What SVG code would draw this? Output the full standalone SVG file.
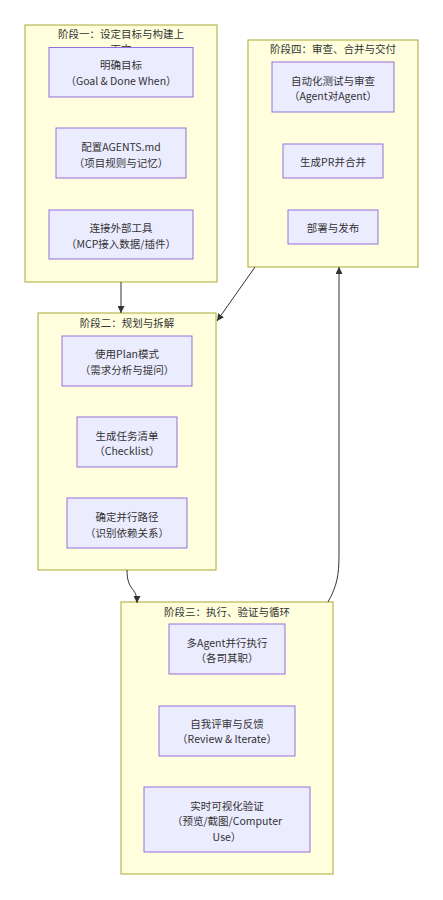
<svg xmlns="http://www.w3.org/2000/svg" width="443" height="900" viewBox="0 0 443 900">
<style>
.cluster rect{fill:#ffffde;stroke:#aaaa33;stroke-width:1}
.node rect{fill:#ECECFF;stroke:#9370DB;stroke-width:1}
text{font-family:"Noto Sans CJK SC","Noto Sans",sans-serif;font-size:10.5px;fill:#333;text-anchor:middle;dominant-baseline:central}
.edge{fill:none;stroke:#333;stroke-width:1;marker-end:url(#arrow)}
</style>
<defs>
<marker id="arrow" viewBox="0 0 10 10" refX="10" refY="5" markerWidth="7" markerHeight="7" markerUnits="userSpaceOnUse" orient="auto">
<path d="M0,0 L10,5 L0,10 z" fill="#333"/>
</marker>
</defs>
<rect width="443" height="900" fill="#ffffff"/>
<g id="clusters">
<g id="stage1" class="cluster"><rect x="25" y="25" width="192" height="257"/><text x="121" y="33.5">阶段一：设定目标与构建上</text><text x="121" y="48">下文</text></g>
<g id="stage4" class="cluster"><rect x="248" y="40" width="170" height="227"/><text x="333" y="48">阶段四：审查、合并与交付</text></g>
<g id="stage2" class="cluster"><rect x="38" y="313" width="178" height="257"/><text x="127" y="322">阶段二：规划与拆解</text></g>
<g id="stage3" class="cluster"><rect x="121" y="602" width="212" height="272"/><text x="227" y="611">阶段三：执行、验证与循环</text></g>
</g>
<g id="connectors">
<path class="edge" d="M121,282 L121,313"/>
<path class="edge" d="M255,267 L217,321"/>
<path class="edge" d="M127,570 C127,592 137,586 137,603"/>
<path class="edge" d="M328,602 C337,586 339,575 339,555 L339,267"/>
</g>
<g id="nodes">
<g id="goal" class="node"><rect x="49" y="47.5" width="144" height="49.5"/><text x="121" y="64">明确目标</text><text x="121" y="80">（Goal &amp; Done When）</text></g>
<g id="agents" class="node"><rect x="56" y="128" width="130" height="50"/><text x="121" y="146">配置AGENTS.md</text><text x="121" y="162">（项目规则与记忆）</text></g>
<g id="tools" class="node"><rect x="49" y="210" width="144" height="49"/><text x="121" y="227">连接外部工具</text><text x="121" y="243">（MCP接入数据/插件）</text></g>
<g id="plan" class="node"><rect x="62" y="336" width="130" height="50"/><text x="127" y="353">使用Plan模式</text><text x="127" y="369">（需求分析与提问）</text></g>
<g id="checklist" class="node"><rect x="77" y="417" width="100" height="50"/><text x="127" y="435">生成任务清单</text><text x="127" y="450">（Checklist）</text></g>
<g id="parallel" class="node"><rect x="67" y="498" width="120" height="50"/><text x="127" y="516">确定并行路径</text><text x="127" y="532">（识别依赖关系）</text></g>
<g id="multi" class="node"><rect x="169" y="624" width="116" height="50"/><text x="227" y="642">多Agent并行执行</text><text x="227" y="657">（各司其职）</text></g>
<g id="review" class="node"><rect x="159" y="706" width="136" height="50"/><text x="227" y="723">自我评审与反馈</text><text x="227" y="738">（Review &amp; Iterate）</text></g>
<g id="visual" class="node"><rect x="144" y="787" width="166" height="65"/><text x="227" y="805">实时可视化验证</text><text x="227" y="820">（预览/截图/Computer</text><text x="227" y="836">Use）</text></g>
<g id="autotest" class="node"><rect x="272" y="62" width="122" height="50"/><text x="333" y="80">自动化测试与审查</text><text x="333" y="95">（Agent对Agent）</text></g>
<g id="pr" class="node"><rect x="283" y="144" width="100" height="34"/><text x="333" y="161">生成PR并合并</text></g>
<g id="deploy" class="node"><rect x="288" y="210" width="90" height="34"/><text x="333" y="227">部署与发布</text></g>
</g>
</svg>
